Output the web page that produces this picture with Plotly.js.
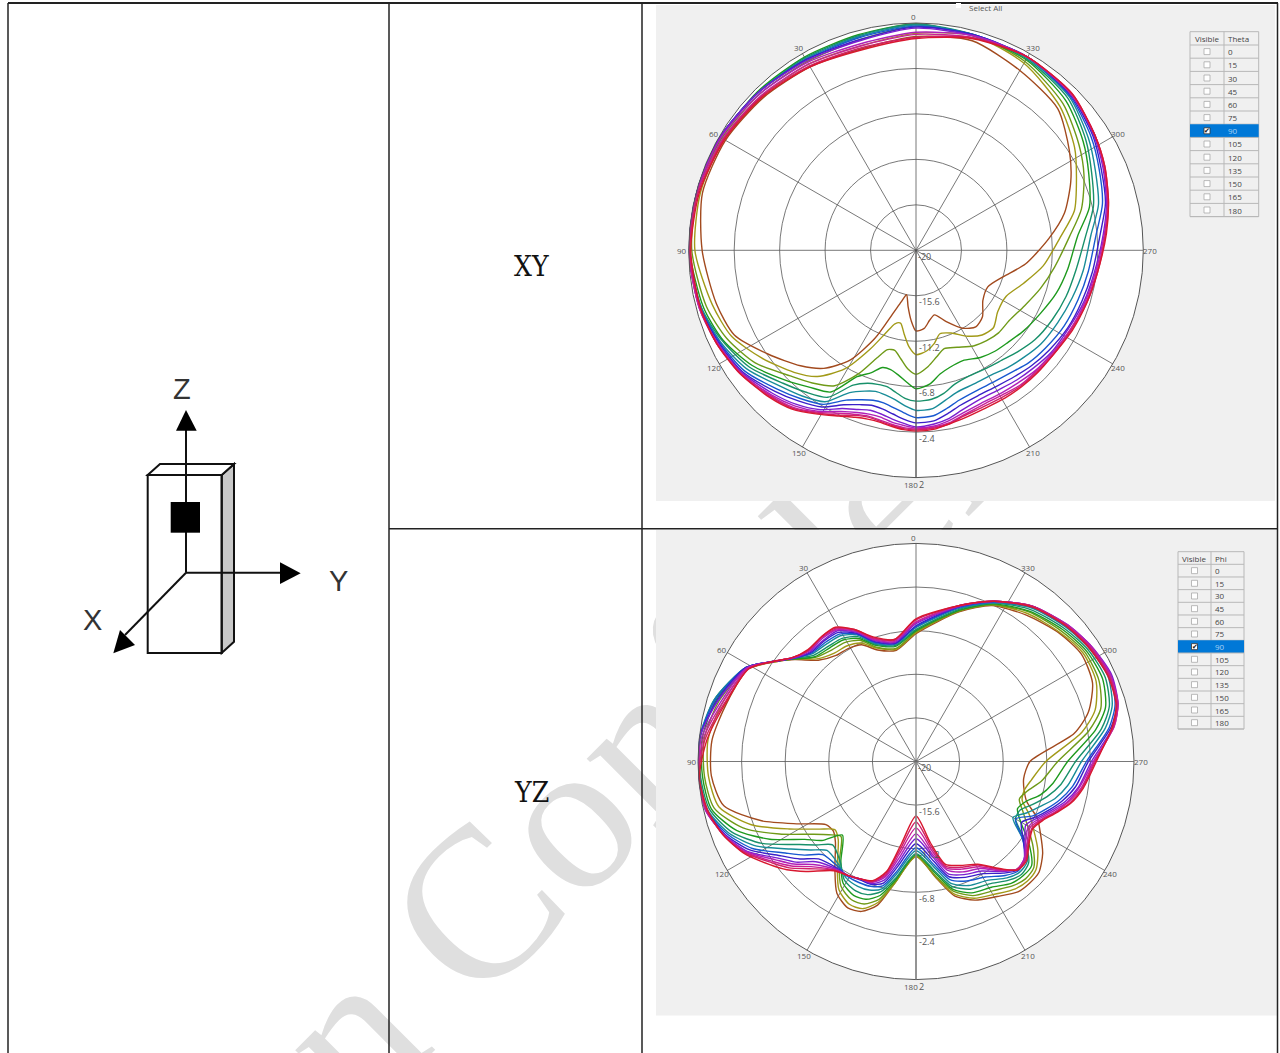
<!DOCTYPE html>
<html>
<head>
<meta charset="utf-8">
<script src="https://cdn.plot.ly/plotly-3.0.1.min.js"></script>
<style>html,body{margin:0;padding:0;background:#fff}#chart{width:1280px;height:1053px}</style>
</head>
<body>
<div id="chart"></div>
<script>
// Angles (degrees)
const xyTheta = [0,15,30,45,60,75,90,105,115,125,135,142,149,155,160,164,168,172,176,180,186,191,196,203,211,218,225,233,243,253,263,275,284,294,303,315,330,345];
const yzTheta = [0,10,19,25,31,37,44,50,55,61,73,84,94,103,111,118,125,130,135,143,149,155,160,165,170,180,190,196,203,211,218,223,228,234,240,245,250,255,261,270,280,286,294,303,312,323,334,344];

// XY plane gain (dB), one array per curve
const xy1 = [0.7,0.2,0.5,0.9,1.3,1.4,0.7,0,-0.6,-2.5,-4.2,-5.5,-7.6,-10.6,-13.5,-14.8,-15.6,-14.5,-13.2,-12.2,-12.4,-13.1,-13.5,-12.5,-11.2,-10.6,-10.9,-11.9,-12.2,-11.2,-9.3,-7.1,-5.2,-3.6,-2.3,-0.6,0.1,1.0];
const xy2 = [1.0,0.5,0.8,1.1,1.5,1.6,1.4,0.4,-0.3,-1.8,-3.3,-4.5,-6.6,-9.4,-11.5,-12.6,-12.8,-11.8,-10.6,-9.9,-10.2,-10.8,-11.6,-11.3,-10.3,-9.6,-9.4,-10.1,-10.2,-9.1,-7.6,-6.0,-4.2,-3.0,-1.7,-0.3,0.9,1.5];
const xy3 = [1.7,1.1,1.1,1.4,1.7,1.9,1.7,1.0,0.2,-1.0,-2.8,-3.7,-4.7,-6.8,-8.9,-10.0,-10.1,-9.4,-8.5,-8.0,-8.7,-9.5,-10.1,-9.8,-9.2,-8.9,-8.7,-8.7,-8.2,-7.4,-6.5,-5.1,-3.5,-2.2,-1.2,0.1,1.1,1.6];
const xy4 = [1.9,1.6,1.6,1.7,1.8,2.0,1.9,1.3,0.6,-0.6,-2.2,-3.2,-4.0,-6.5,-7.4,-8.2,-8.2,-7.8,-7.2,-6.6,-7.0,-7.8,-8.2,-8.4,-7.9,-7.6,-7.4,-7.0,-6.5,-5.8,-5.2,-4.3,-2.7,-1.7,-0.7,0.5,1.3,1.5];
const xy5 = [1.9,1.5,1.5,1.6,1.9,2.0,2.0,1.5,0.7,-0.3,-1.8,-2.6,-3.4,-5.6,-6.3,-6.5,-6.5,-6.1,-5.6,-5.4,-5.5,-5.9,-6.5,-6.8,-6.7,-6.5,-6.1,-5.6,-5.2,-4.8,-4.4,-3.5,-2.3,-1.4,-0.4,0.8,1.4,1.6];
const xy6 = [1.8,1.4,1.4,1.6,1.9,2.0,2.0,1.5,0.9,0.0,-1.4,-2.1,-2.9,-4.8,-5.5,-5.8,-5.7,-5.4,-4.9,-4.5,-4.6,-5.2,-5.7,-5.9,-5.9,-5.6,-5.3,-4.9,-4.6,-4.2,-3.7,-3.0,-1.8,-1.0,-0.1,1.0,1.5,1.6];
const xy7 = [1.7,1.3,1.3,1.6,1.9,2.0,2.0,1.6,1.0,0.3,-1.0,-1.8,-2.6,-4.0,-4.6,-4.9,-4.9,-4.6,-4.2,-3.8,-3.9,-4.4,-4.9,-5.2,-5.2,-5.0,-4.6,-4.3,-3.9,-3.6,-3.2,-2.5,-1.4,-0.6,0.2,1.1,1.6,1.6];
const xy8 = [1.6,1.1,1.3,1.6,1.9,2.0,2.0,1.6,1.1,0.5,-0.7,-1.5,-2.3,-3.5,-4.1,-4.4,-4.3,-4.0,-3.6,-3.3,-3.4,-3.9,-4.4,-4.7,-4.7,-4.5,-4.2,-3.9,-3.5,-3.2,-2.8,-2.1,-1.1,-0.4,0.4,1.2,1.6,1.6];
const xy9 = [1.5,1.0,1.2,1.6,1.9,2.0,2.0,1.7,1.2,0.6,-0.4,-1.1,-2.0,-3.1,-3.6,-3.9,-3.8,-3.5,-3.2,-2.9,-3.1,-3.4,-3.9,-4.3,-4.3,-4.1,-3.9,-3.6,-3.4,-3.0,-2.6,-1.8,-1.0,-0.2,0.5,1.3,1.6,1.5];
const xy10 = [1.1,0.7,1.0,1.4,1.8,2.0,2.0,1.7,1.2,0.7,-0.2,-0.9,-1.8,-2.8,-3.3,-3.5,-3.5,-3.2,-3.0,-2.8,-2.9,-3.2,-3.6,-3.9,-3.9,-3.8,-3.6,-3.5,-3.2,-2.9,-2.5,-1.7,-0.9,-0.1,0.6,1.3,1.6,1.5];
const xy11 = [0.9,0.5,0.8,1.2,1.6,1.9,2.0,1.7,1.3,0.7,-0.1,-0.7,-1.7,-2.6,-3.1,-3.3,-3.2,-3.0,-2.8,-2.7,-2.8,-3.0,-3.4,-3.7,-3.7,-3.5,-3.5,-3.4,-3.2,-2.8,-2.4,-1.6,-0.9,-0.1,0.6,1.3,1.6,1.3];
const xy12 = [0.6,0.3,0.6,1.1,1.5,1.8,1.9,1.6,1.3,0.8,0.0,-0.6,-1.6,-2.4,-3.0,-3.2,-3.1,-2.9,-2.7,-2.6,-2.7,-2.9,-3.3,-3.5,-3.5,-3.4,-3.4,-3.3,-3.1,-2.7,-2.3,-1.6,-0.8,0.0,0.6,1.4,1.6,1.3];
const xy13 = [0.5,0.1,0.5,1.0,1.4,1.7,1.8,1.6,1.3,0.8,0.1,-0.5,-1.5,-2.3,-2.8,-3.0,-3.0,-2.8,-2.6,-2.5,-2.6,-2.9,-3.1,-3.3,-3.3,-3.3,-3.3,-3.3,-3.0,-2.7,-2.3,-1.5,-0.8,0.0,0.6,1.4,1.6,1.2];

// YZ plane gain (dB), one array per curve
const yz1 = [-7.1,-8.6,-8.1,-7.0,-6.7,-6.6,-5.8,-4.0,-2.5,-0.7,0.0,0.7,0.7,-0.1,-3.3,-6.6,-8.9,-9.1,-8.5,-6.4,-4.5,-3.7,-3.9,-5.0,-7.5,-10.4,-8.0,-5.9,-4.8,-4.1,-3.3,-3.2,-3.3,-4.2,-5.5,-6.5,-8.1,-8.7,-9.0,-8.5,-3.8,-1.9,-0.5,-0.1,-0.6,-1.5,-2.5,-4.3];
const yz2 = [-7.0,-8.5,-7.9,-6.8,-6.4,-6.3,-5.6,-3.9,-2.5,-0.7,0.4,1.1,1.0,0.4,-2.2,-5.5,-8.1,-9.3,-8.9,-6.8,-4.9,-4.1,-4.2,-5.3,-7.5,-10.4,-8.1,-6.1,-5.0,-4.4,-3.7,-3.5,-3.7,-4.8,-6.3,-7.4,-8.6,-8.7,-8.2,-6.9,-3.0,-1.2,-0.1,0.1,-0.5,-1.3,-2.4,-4.2];
const yz3 = [-6.9,-8.4,-7.8,-6.5,-6.0,-5.9,-5.4,-3.9,-2.4,-0.6,0.8,1.5,1.4,0.9,-1.3,-4.4,-7.2,-8.5,-9.3,-7.1,-5.3,-4.6,-4.7,-5.6,-7.6,-10.5,-8.2,-6.4,-5.3,-4.8,-4.1,-3.8,-4.0,-5.4,-7.0,-8.1,-8.9,-8.4,-7.2,-5.7,-2.3,-0.6,0.2,0.3,-0.3,-1.1,-2.4,-4.2];
const yz4 = [-6.8,-8.2,-7.6,-6.3,-5.7,-5.6,-5.3,-3.9,-2.4,-0.5,1.1,1.7,1.6,1.2,-0.6,-3.3,-6.3,-7.6,-9.5,-7.4,-5.7,-5.1,-5.2,-6.0,-7.8,-10.6,-8.5,-6.6,-5.6,-5.2,-4.4,-4.2,-4.3,-5.9,-7.8,-8.7,-8.2,-7.0,-6.0,-4.7,-1.6,-0.1,0.6,0.5,-0.1,-1.0,-2.3,-4.1];
const yz5 = [-6.7,-8.1,-7.5,-6.1,-5.5,-5.4,-5.1,-3.8,-2.4,-0.4,1.3,1.9,1.8,1.4,-0.1,-2.4,-5.4,-6.9,-8.1,-7.3,-6.0,-5.6,-5.7,-6.4,-8.0,-10.7,-8.7,-6.9,-6.0,-5.6,-4.8,-4.4,-4.7,-6.4,-8.4,-8.4,-7.4,-6.3,-5.2,-3.9,-1.0,0.3,0.9,0.7,0.1,-0.8,-2.2,-4.0];
const yz6 = [-6.5,-8.0,-7.4,-5.9,-5.2,-5.1,-4.9,-3.8,-2.4,-0.4,1.3,2.0,1.9,1.6,0.2,-1.8,-4.6,-6.1,-7.3,-7.0,-6.3,-6.1,-6.2,-6.7,-8.4,-11.0,-9.1,-7.2,-6.4,-6.0,-5.1,-4.7,-4.9,-6.7,-8.7,-7.7,-6.7,-5.5,-4.5,-3.3,-0.6,0.6,1.2,0.9,0.3,-0.6,-2.2,-3.9];
const yz7 = [-6.4,-7.9,-7.3,-5.8,-5.0,-4.9,-4.8,-3.8,-2.4,-0.4,1.2,2.0,2.0,1.7,0.4,-1.3,-3.9,-5.3,-6.7,-6.8,-6.5,-6.5,-6.6,-7.0,-8.7,-11.3,-9.4,-7.6,-6.9,-6.4,-5.4,-4.9,-5.2,-6.7,-8.4,-7.0,-6.0,-5.0,-4.0,-2.8,-0.2,0.9,1.4,1.0,0.4,-0.5,-2.1,-3.8];
const yz8 = [-6.3,-7.9,-7.2,-5.7,-4.8,-4.7,-4.7,-3.8,-2.4,-0.4,1.0,2.0,2.0,1.7,0.6,-1.0,-3.4,-4.7,-6.1,-6.6,-6.6,-6.8,-6.8,-7.3,-9.2,-11.7,-9.8,-7.9,-7.3,-6.8,-5.7,-5.0,-5.3,-6.6,-7.7,-6.7,-5.7,-4.7,-3.7,-2.6,0.0,1.1,1.5,1.1,0.5,-0.4,-2.0,-3.7];
const yz9 = [-6.1,-7.8,-7.1,-5.6,-4.6,-4.6,-4.6,-3.8,-2.4,-0.5,0.9,2.0,2.0,1.8,0.7,-0.7,-3.0,-4.2,-5.7,-6.5,-6.6,-6.9,-6.9,-7.6,-9.6,-12.2,-10.2,-8.2,-7.6,-7.1,-5.9,-5.1,-5.3,-6.4,-7.2,-6.5,-5.5,-4.4,-3.4,-2.3,0.2,1.2,1.6,1.2,0.6,-0.4,-2.0,-3.7];
const yz10 = [-6.0,-7.7,-7.0,-5.5,-4.5,-4.4,-4.5,-3.7,-2.4,-0.5,0.6,1.8,2.0,1.8,0.7,-0.6,-2.7,-3.9,-5.3,-6.4,-6.6,-6.9,-7.0,-7.9,-10.1,-12.7,-10.5,-8.6,-7.9,-7.4,-6.0,-5.1,-5.3,-6.3,-6.9,-6.3,-5.3,-4.2,-3.3,-2.1,0.3,1.2,1.5,1.2,0.6,-0.4,-2.0,-3.6];
const yz11 = [-5.9,-7.6,-6.9,-5.4,-4.4,-4.3,-4.4,-3.7,-2.4,-0.6,0.4,1.6,2.0,1.7,0.8,-0.5,-2.4,-3.6,-5.0,-6.3,-6.6,-6.9,-7.1,-8.1,-10.6,-13.3,-10.9,-8.8,-8.2,-7.6,-6.1,-5.1,-5.2,-6.1,-6.7,-6.1,-5.1,-4.1,-3.1,-2.0,0.3,1.2,1.4,1.1,0.5,-0.4,-2.0,-3.6];
const yz12 = [-5.7,-7.5,-6.8,-5.3,-4.3,-4.2,-4.4,-3.7,-2.4,-0.7,0.2,1.4,2.0,1.7,0.8,-0.4,-2.2,-3.3,-4.7,-6.3,-6.6,-6.9,-7.1,-8.3,-11.1,-13.9,-11.3,-9.0,-8.4,-7.8,-6.2,-5.1,-5.1,-6.0,-6.5,-6.0,-5.0,-3.9,-3.0,-1.9,0.2,1.1,1.3,1.0,0.5,-0.4,-2.0,-3.6];
const yz13 = [-5.6,-7.5,-6.7,-5.3,-4.2,-4.2,-4.3,-3.7,-2.4,-0.7,0.1,1.2,1.9,1.6,0.8,-0.3,-1.9,-3.0,-4.3,-6.2,-6.6,-6.9,-7.2,-8.5,-11.6,-14.5,-11.7,-9.2,-8.6,-7.9,-6.3,-5.0,-5.0,-5.9,-6.4,-5.9,-4.9,-3.8,-2.9,-1.8,0.1,1.0,1.2,0.9,0.4,-0.5,-2.0,-3.6];

const curveColors = ['#a24a1e','#a29a18','#6f9a18','#1e9a1e','#18906a','#188c98','#1858d0','#3a20c8','#7a20d0','#b020b8','#c82098','#d02068','#d81830'];
const xySeries = [xy1,xy2,xy3,xy4,xy5,xy6,xy7,xy8,xy9,xy10,xy11,xy12,xy13];
const yzSeries = [yz1,yz2,yz3,yz4,yz5,yz6,yz7,yz8,yz9,yz10,yz11,yz12,yz13];

const radialTicks = [-20,-15.6,-11.2,-6.8,-2.4,2];
const radialTickText = ['-20','-15.6','-11.2','-6.8','-2.4','2'];
const angleTicks = [0,30,60,90,120,150,180,210,240,270,300,330];

const tableRows = ['0','15','30','45','60','75','90','105','120','135','150','165','180'];
const selectedRow = '90';

const W = 1280, H = 1053;
const px = x => x / W;
const py = y => 1 - y / H;
const rMin = radialTicks[0], rMax = radialTicks[radialTicks.length - 1];

function makePolar(cx, cy, R, axisColor, axisWidth) {
  return {
    domain: {x: [px(cx - R), px(cx + R)], y: [py(cy + R), py(cy - R)]},
    bgcolor: '#ffffff',
    angularaxis: {
      rotation: 90, direction: 'counterclockwise', tickmode: 'array', tickvals: angleTicks, showticklabels: false,
      ticks: '', showline: true, linecolor: '#555', linewidth: 1, gridcolor: '#555', gridwidth: 0.8
    },
    radialaxis: {
      range: [rMin, rMax], angle: 270, tickmode: 'array', tickvals: radialTicks, showticklabels: false,
      side: 'counterclockwise', ticks: '', showline: true, linecolor: axisColor, linewidth: axisWidth,
      gridcolor: '#555', gridwidth: 0.8
    }
  };
}

const data = [];
xySeries.forEach((r, i) => data.push({
  type: 'scatterpolar', mode: 'lines', subplot: 'polar', theta: xyTheta.concat(xyTheta[0]), r: r.concat(r[0]),
  line: {color: curveColors[i], width: 1.4, shape: 'spline', smoothing: 0.7}, hoverinfo: 'skip', showlegend: false
}));
yzSeries.forEach((r, i) => data.push({
  type: 'scatterpolar', mode: 'lines', subplot: 'polar2', theta: yzTheta.concat(yzTheta[0]), r: r.concat(r[0]),
  line: {color: curveColors[i], width: 1.4, shape: 'spline', smoothing: 0.7}, hoverinfo: 'skip', showlegend: false
}));

const shapes = [];
const annotations = [];
const rect = (x0, y0, x1, y1, fill, lineColor, lw) => shapes.push({
  type: 'rect', xref: 'paper', yref: 'paper', layer: 'below', x0: px(x0), x1: px(x1), y0: py(y0), y1: py(y1),
  fillcolor: fill, line: {color: lineColor || 'rgba(0,0,0,0)', width: lineColor ? (lw || 1) : 0}
});
const seg = (x0, y0, x1, y1, color, lw) => shapes.push({
  type: 'line', xref: 'paper', yref: 'paper', layer: 'below', x0: px(x0), x1: px(x1), y0: py(y0), y1: py(y1),
  line: {color: color, width: lw}
});
const poly = (pts, fill, lineColor, lw) => shapes.push({
  type: 'path', xref: 'paper', yref: 'paper', layer: 'below',
  path: 'M' + pts.map(p => px(p[0]) + ',' + py(p[1])).join('L') + 'Z',
  fillcolor: fill, line: {color: lineColor || 'rgba(0,0,0,0)', width: lineColor ? lw : 0}
});
const text = (x, y, t, size, color, family, anchor) => annotations.push({
  xref: 'paper', yref: 'paper', x: px(x), y: py(y), text: t, showarrow: false,
  xanchor: anchor || 'center', yanchor: 'middle', font: {size: size, color: color, family: family}, borderpad: 0, borderwidth: 0
});

// Watermark, behind the grey panels
shapes.push({
  type: 'rect', xref: 'paper', yref: 'paper', layer: 'below',
  x0: px(721), x1: px(741), y0: py(629), y1: py(609), fillcolor: 'rgba(0,0,0,0)', line: {width: 0},
  label: {text: 'n Confidential', textangle: -45, textposition: 'middle center', font: {size: 215, family: 'Liberation Serif, serif', color: '#dfdfdf'}}
});

// Grey panels holding the two plots
rect(656, 5, 1275, 501, '#f0f0f0');
rect(656, 530, 1277, 1015.5, '#f0f0f0');

// Outer document table
seg(8, 3, 1278, 3, '#222', 2);
seg(8, 3, 8, H, '#222', 1.5);
seg(389, 3, 389, H, '#222', 1.5);
seg(642, 3, 642, H, '#222', 1.5);
seg(1277.5, 3, 1277.5, H, '#222', 1.5);
seg(389, 528.7, 1278, 528.7, '#222', 1.5);

// Device diagram
const dw = 2;
poly([[221.7,475],[234,464],[234,641.7],[221.7,653]], '#c8c8c8', '#111', dw);
poly([[147.7,475],[160,464],[234,464],[221.7,475]], '#ffffff', '#111', dw);
rect(147.7, 475, 221.7, 653, 'rgba(0,0,0,0)', '#111', dw);
seg(186, 572.7, 186, 430, '#111', dw);
seg(186, 572.7, 280, 572.7, '#111', dw);
seg(186, 572.7, 125, 635, '#111', dw);
rect(170.7, 502, 200, 532.7, '#000000');
poly([[186,410],[176,430.7],[196.7,430.7]], '#000000');
poly([[280,562.3],[280,584],[300.7,573.3]], '#000000');
poly([[113.3,653.3],[120,630],[135,645]], '#000000');
const sansFont = 'Liberation Sans, sans-serif';
text(182, 389, 'Z', 29, '#333', sansFont);
text(338, 581, 'Y', 29, '#333', sansFont);
text(92, 620, 'X', 29, '#333', sansFont);

// Row labels
const labelFont = 'DejaVu Serif Condensed, DejaVu Serif, serif';
text(531, 266, 'XY', 28, '#111', labelFont);
text(531, 792, 'YZ', 28, '#111', labelFont);

// Scale labels: radial values beside the downward spoke, angles around the rim
function scaleLabels(cx, cy, R) {
  const uiFont = 'Open Sans, sans-serif';
  radialTicks.forEach((v, i) => {
    const y = cy + R * (v - rMin) / (rMax - rMin);
    const last = i === radialTicks.length - 1;
    text(cx + (i === 0 ? 2 : 3), y + (last ? 7 : 6), radialTickText[i], 9, '#555', uiFont, 'left');
  });
  angleTicks.forEach(a => {
    const rad = a * Math.PI / 180, rr = R + 6.5;
    const nudge = a === 0 ? -3 : (a === 180 ? -5 : 0);
    text(cx - rr * Math.sin(rad) + nudge, cy - rr * Math.cos(rad), String(a), 8, '#555', uiFont);
  });
}
scaleLabels(916, 250.3, 227.3);
scaleLabels(916, 761.5, 218);

// Visible / angle lists
function drawList(x0, xm, x1, yTop, yHead, rowH, headRight) {
  rect(x0, yTop, x1, yHead + rowH * tableRows.length, '#f0f0f0', '#b8b8b8', 1);
  seg(xm, yTop, xm, yHead + rowH * tableRows.length, '#b8b8b8', 1);
  seg(x0, yHead, x1, yHead, '#b8b8b8', 1);
  const uiFont = 'Open Sans, sans-serif';
  text((x0 + xm) / 2, (yTop + yHead) / 2, 'Visible', 8, '#444', uiFont);
  text(xm + 4, (yTop + yHead) / 2, headRight, 8, '#444', uiFont, 'left');
  tableRows.forEach((label, i) => {
    const y0 = yHead + i * rowH, y1 = y0 + rowH, yc = (y0 + y1) / 2, xc = (x0 + xm) / 2;
    const selected = label === selectedRow;
    if (selected) rect(x0, y0, x1, y1, '#0078d7');
    seg(x0, y1, x1, y1, '#b8b8b8', 1);
    rect(xc - 3, yc - 3, xc + 3, yc + 3, '#ffffff', selected ? '#333' : '#aaa', 0.8);
    if (selected) text(xc, yc, '✔', 7, '#111', 'DejaVu Sans, sans-serif');
    text(xm + 4, yc, label, 8, selected ? '#a8d0f5' : '#444', uiFont, 'left');
  });
}
drawList(1190, 1224, 1258.7, 31.7, 45, 13.2, 'Theta');
drawList(1178, 1211, 1244, 551.7, 564.3, 12.67, 'Phi');

// "Select All" checkbox above the first plot
rect(956, 3, 961, 8, '#ffffff');
text(969, 7, 'Select All', 8, '#555', 'Open Sans, sans-serif', 'left');

const layout = {
  width: W, height: H, margin: {l: 0, r: 0, t: 0, b: 0}, paper_bgcolor: '#ffffff',
  showlegend: false, shapes: shapes, annotations: annotations,
  polar: makePolar(916, 250.3, 227.3, '#555', 1),
  polar2: makePolar(916, 761.5, 218, '#8a8a8a', 1.6)
};
Plotly.newPlot('chart', data, layout, {displayModeBar: false, staticPlot: true});
</script>
</body>
</html>
